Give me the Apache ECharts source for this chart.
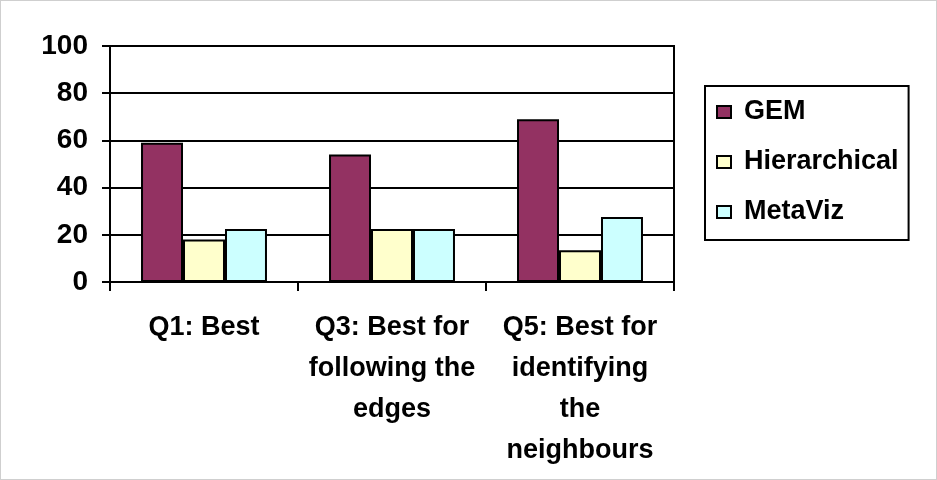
<!DOCTYPE html>
<html>
<head>
<meta charset="utf-8">
<script src="https://cdn.jsdelivr.net/npm/echarts@6/dist/echarts.min.js"></script>
<style>
  html, body { margin: 0; padding: 0; background: #fff; }
  #chart { width: 937px; height: 480px; box-sizing: border-box; border: 1px solid #cfcfcf; }
</style>
</head>
<body>
<div id="chart"></div>
<script>
// Survey questions (x axis) and share of votes per visualisation (%)
const questions = ['Q1: Best', 'Q3: Best for\nfollowing the\nedges', 'Q5: Best for\nidentifying\nthe\nneighbours'];
const gem = [59, 54, 69];
const hierarchical = [18, 22.5, 13.5];
const metaViz = [22.5, 22.5, 27.5];
const yTicks = { min: 0, max: 100, step: 20 };

const FONT = '"Liberation Sans", Arial, sans-serif';
const chart = echarts.init(document.getElementById('chart'), null, { renderer: 'canvas' });

const barStyle = color => ({ color: color, borderColor: '#000', borderWidth: 2 });

chart.setOption({
  animation: false,
  backgroundColor: '#fff',
  grid: {
    left: 109, right: 262, top: 45, bottom: 197,
    show: true, borderColor: '#000', borderWidth: 2, backgroundColor: 'transparent'
  },
  legend: {
    orient: 'vertical',
    left: 704, top: 85,
    padding: [11, 10, 13, 11],
    borderColor: '#000', borderWidth: 2,
    itemWidth: 14, itemHeight: 12, itemGap: 20,
    icon: 'rect',
    itemStyle: { borderColor: '#000', borderWidth: 2 },
    textStyle: { fontFamily: FONT, fontWeight: 'bold', fontSize: 27, color: '#000', lineHeight: 30, padding: [0, 0, 0, 8] },
    data: ['GEM', 'Hierarchical', 'MetaViz']
  },
  xAxis: {
    type: 'category',
    data: questions,
    axisLine: { lineStyle: { color: '#000', width: 2 } },
    axisTick: { show: true, length: 9, interval: 0, lineStyle: { color: '#000', width: 2 } },
    axisLabel: {
      interval: 0, margin: 25, fontFamily: FONT, fontWeight: 'bold', fontSize: 27,
      lineHeight: 41, color: '#000', align: 'center'
    },
    splitLine: { show: false }
  },
  yAxis: {
    type: 'value',
    min: yTicks.min, max: yTicks.max, interval: yTicks.step,
    axisLine: { show: true, lineStyle: { color: '#000', width: 2 } },
    axisTick: { show: true, length: 8, lineStyle: { color: '#000', width: 2 } },
    axisLabel: { margin: 22, fontFamily: FONT, fontWeight: 'bold', fontSize: 28, color: '#000' },
    splitLine: { show: true, lineStyle: { color: '#000', width: 2 } }
  },
  series: [
    { name: 'GEM', type: 'bar', data: gem, barGap: '0%', barCategoryGap: '33%', itemStyle: barStyle('#933262') },
    { name: 'Hierarchical', type: 'bar', data: hierarchical, barGap: '0%', barCategoryGap: '33%', itemStyle: barStyle('#ffffcc') },
    { name: 'MetaViz', type: 'bar', data: metaViz, barGap: '0%', barCategoryGap: '33%', itemStyle: barStyle('#ccffff') }
  ]
});
</script>
</body>
</html>
